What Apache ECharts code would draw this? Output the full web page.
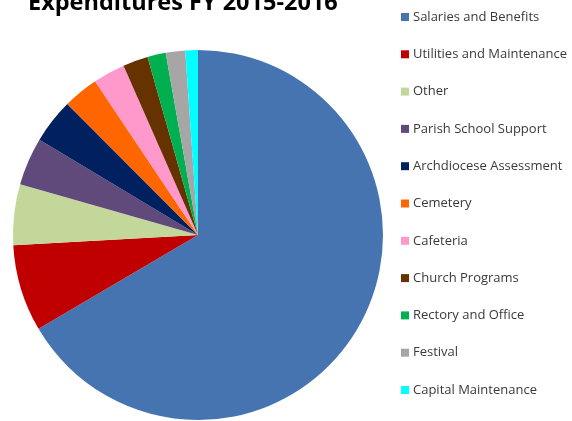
<!DOCTYPE html>
<html>
<head>
<meta charset="utf-8">
<script src="https://cdn.jsdelivr.net/npm/echarts@6/dist/echarts.min.js"></script>
<style>
  html, body { margin: 0; padding: 0; background: #fff; }
  #chart { width: 572px; height: 421px; }
</style>
</head>
<body>
<div id="chart"></div>
<script>
// categories and share of spending (percent)
var categories = ['Salaries and Benefits', 'Utilities and Maintenance', 'Other',
  'Parish School Support', 'Archdiocese Assessment', 'Cemetery', 'Cafeteria',
  'Church Programs', 'Rectory and Office', 'Festival', 'Capital Maintenance'];
var values = [66.6, 7.6, 5.3, 4.2, 3.9, 3.1, 2.8, 2.2, 1.6, 1.7, 1.1];
var colors = ['#4674B0', '#C00000', '#C4D79B', '#604A7B', '#002060', '#FF6600',
  '#FF99CC', '#663300', '#00B050', '#A6A6A6', '#00FFFF'];

var chart = echarts.init(document.getElementById('chart'), null, {renderer: 'canvas'});

var pieData = categories.map(function (name, i) {
  return {name: name, value: values[i], itemStyle: {color: colors[i]}};
});

chart.setOption({
  animation: false,
  title: {
    text: 'Expenditures FY 2015-2016',
    left: 28,
    top: -9,
    padding: 0,
    textStyle: {
      fontFamily: 'Open Sans',
      fontWeight: 'bold',
      fontSize: 23.5,
      color: '#000'
    }
  },
  legend: {
    orient: 'vertical',
    left: 401,
    top: 9,
    padding: 0,
    itemWidth: 8,
    itemHeight: 8,
    itemGap: 21.3,
    icon: 'rect',
    data: categories,
    textStyle: {
      fontFamily: 'Open Sans',
      fontSize: 13,
      lineHeight: 16,
      color: '#3a3a3a',
      padding: [0, 0, 0, -1]
    }
  },
  series: [{
    type: 'pie',
    center: [198, 235],
    radius: 185,
    startAngle: 90,
    clockwise: true,
    label: {show: false},
    labelLine: {show: false},
    emphasis: {disabled: true},
    itemStyle: {borderWidth: 0},
    data: pieData
  }]
});
</script>
</body>
</html>
